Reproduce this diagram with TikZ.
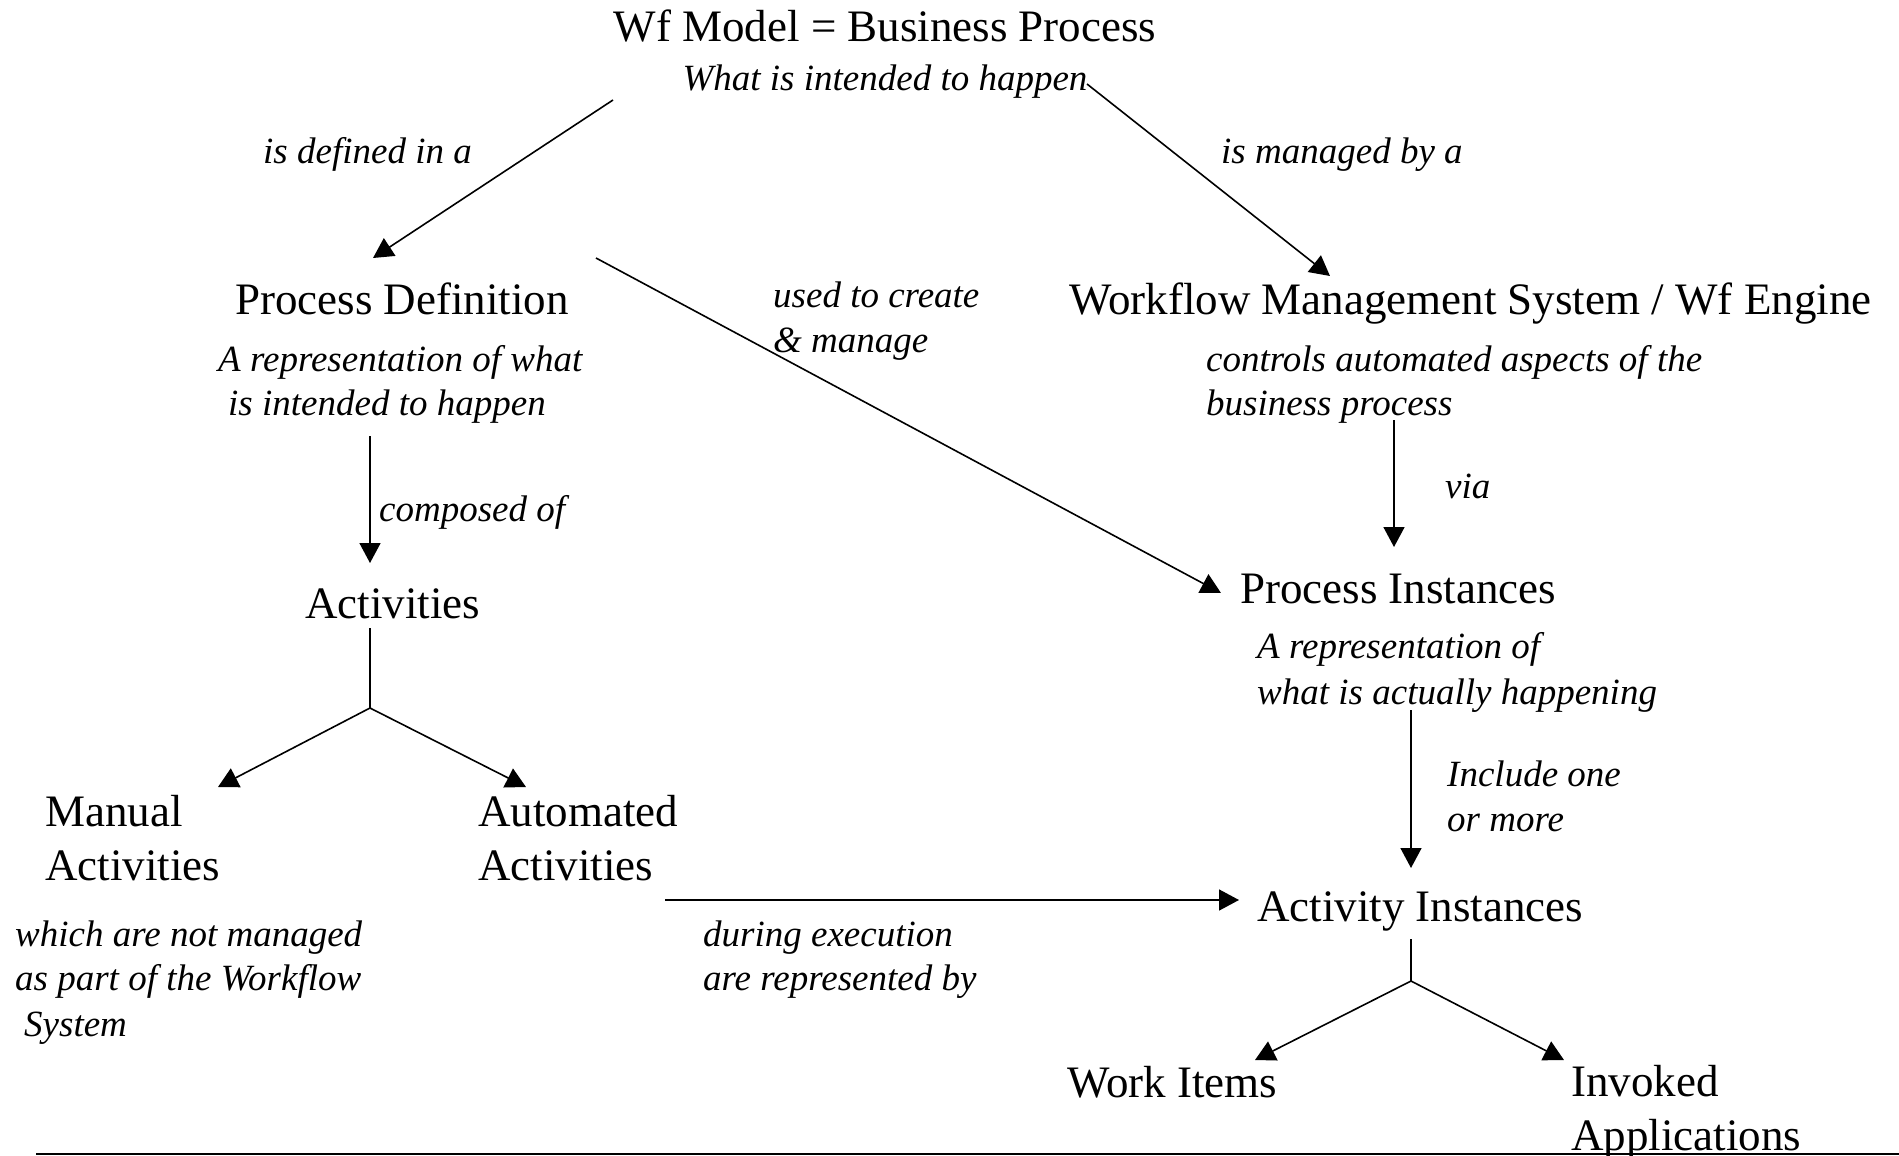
\documentclass[tikz,border=0pt]{standalone}
\usepackage{fontspec}
\setmainfont{Liberation Serif}
\usetikzlibrary{arrows.meta}
\begin{document}
\begin{tikzpicture}[x=1pt,y=-1pt,
  main/.style={font=\fontsize{45}{54}\selectfont, inner sep=0pt, anchor=base west},
  lbl/.style={font=\fontsize{37}{44}\selectfont\itshape, inner sep=0pt, anchor=base west},
  conn/.style={line width=1.6pt, -{Triangle[width=21pt,length=20pt]}},
  plain/.style={line width=1.6pt}]
\useasboundingbox (0,0) rectangle (1899,1156);
% texts
\node[main, anchor=base] (wf) at (885,42) {Wf Model = Business Process};
\node[lbl, anchor=base] (wfsub) at (885,90) {What is intended to happen};
\node[lbl] (ldef) at (263,163) {is defined in a};
\node[lbl] (lman) at (1221,163) {is managed by a};
\node[main] (pd) at (235,314) {Process Definition};
\node[lbl] (pd1) at (218,371) {A representation of what};
\node[lbl] (pd2) at (228,415) {is intended to happen};
\node[lbl] (luse1) at (773,307) {used to create};
\node[lbl] (luse2) at (773,352) {\& manage};
\node[main] (wms) at (1069,314) {Workflow Management System / Wf Engine};
\node[lbl] (wms1) at (1206,371) {controls automated aspects of the};
\node[lbl] (wms2) at (1206,415) {business process};
\node[lbl] (lvia) at (1445,498) {via};
\node[lbl] (lcomp) at (379,521) {composed of};
\node[main] (act) at (305,618) {Activities};
\node[main] (man1) at (45,826) {Manual};
\node[main] (man2) at (45,880) {Activities};
\node[main] (aut1) at (478,826) {Automated};
\node[main] (aut2) at (478,880) {Activities};
\node[lbl] (mn1) at (15,946) {which are not managed};
\node[lbl] (mn2) at (15,990) {as part of the Workflow};
\node[lbl] (mn3) at (24,1036) {System};
\node[lbl] (ldur1) at (703,946) {during execution};
\node[lbl] (ldur2) at (703,990) {are represented by};
\node[main] (pi) at (1240,603) {Process Instances};
\node[lbl] (pi1) at (1257,658) {A representation of};
\node[lbl] (pi2) at (1257,704) {what is actually happening};
\node[lbl] (linc1) at (1447,786) {Include one};
\node[lbl] (linc2) at (1447,831) {or more};
\node[main] (ai) at (1257,921) {Activity Instances};
\node[main] (wi) at (1067,1097) {Work Items};
\node[main] (inv1) at (1571,1096) {Invoked};
\node[main] (inv2) at (1571,1150) {Applications};
% connector end points
\coordinate (a1s) at (613,100);  \coordinate (a1e) at (373,258);
\coordinate (a2s) at (1087,84);  \coordinate (a2e) at (1330,276);
\coordinate (a3s) at (596,258);  \coordinate (a3e) at (1221,593);
\coordinate (a4s) at (1394,420); \coordinate (a4e) at (1394,547);
\coordinate (a5s) at (370,436);  \coordinate (a5e) at (370,563);
\coordinate (t1s) at (370,628);  \coordinate (t1j) at (370,708);
\coordinate (t1l) at (218,787);  \coordinate (t1r) at (526,787);
\coordinate (a6s) at (665,900);  \coordinate (a6e) at (1239,900);
\coordinate (a7s) at (1411,710); \coordinate (a7e) at (1411,868);
\coordinate (t2s) at (1411,939); \coordinate (t2j) at (1411,981);
\coordinate (t2l) at (1255,1060); \coordinate (t2r) at (1564,1060);
\coordinate (bl) at (36,1154);   \coordinate (br) at (1899,1154);
% connectors
\draw[conn] (a1s) -- (a1e);
\draw[conn] (a2s) -- (a2e);
\draw[conn] (a3s) -- (a3e);
\draw[conn] (a4s) -- (a4e);
\draw[conn] (a5s) -- (a5e);
\draw[plain] (t1s) -- (t1j);
\draw[conn] (t1j) -- (t1l);
\draw[conn] (t1j) -- (t1r);
\draw[conn] (a6s) -- (a6e);
\draw[conn] (a7s) -- (a7e);
\draw[plain] (t2s) -- (t2j);
\draw[conn] (t2j) -- (t2l);
\draw[conn] (t2j) -- (t2r);
\draw[line width=2.5pt] (bl) -- (br);
\end{tikzpicture}
\end{document}
